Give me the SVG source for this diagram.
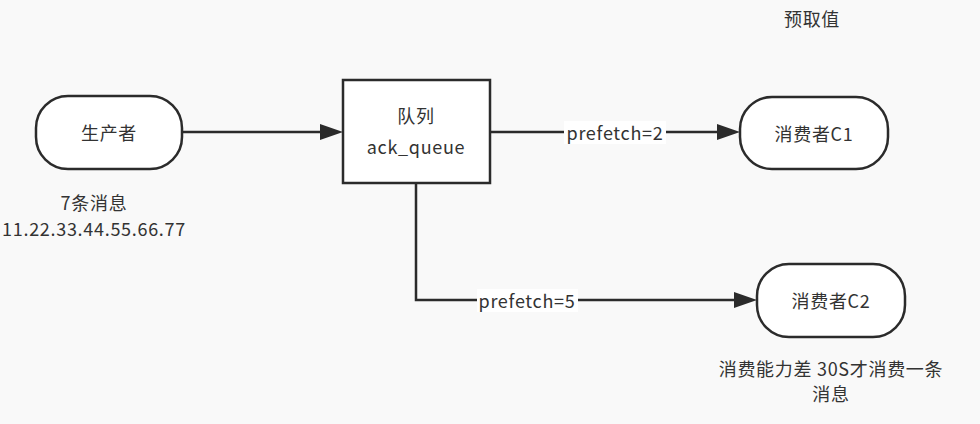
<svg xmlns="http://www.w3.org/2000/svg" width="980" height="424" viewBox="0 0 980 424">
<style>
text{font-family:"Noto Sans CJK SC","Noto Sans",sans-serif;font-size:18px;letter-spacing:0.7px;fill:#333;text-anchor:middle;dominant-baseline:central}
.n{fill:#fff;stroke:#2b2b2b;stroke-width:2.5}
.c{fill:none;stroke:#2b2b2b;stroke-width:2.5}
.lb{fill:#fff}
.ah{fill:#2b2b2b}
</style>
<rect width="980" height="424" fill="#f9f9f9"/>
<g id="connectors">
<path class="c" d="M182,132 H322"/>
<polygon class="ah" points="343,132 320,124 320,140"/>
<path class="c" d="M490,132 H719"/>
<polygon class="ah" points="740,132 717,124 717,140"/>
<rect class="lb" x="564" y="121" width="102" height="23"/>
<text x="615" y="132">prefetch=2</text>
<path class="c" d="M416,183 V300 H736"/>
<polygon class="ah" points="757,300 734,292 734,308"/>
<rect class="lb" x="477" y="289" width="101" height="23"/>
<text x="527" y="300">prefetch=5</text>
</g>
<g id="producer">
<rect class="n" x="36" y="96" width="146" height="73" rx="32"/>
<text x="109" y="132">生产者</text>
</g>
<g id="queue">
<rect class="n" x="343" y="80" width="147" height="103"/>
<text x="416" y="115">队列</text>
<text x="416" y="146">ack_queue</text>
</g>
<g id="consumer1">
<rect class="n" x="740" y="97" width="148" height="72" rx="32"/>
<text x="814" y="133">消费者C1</text>
</g>
<g id="consumer2">
<rect class="n" x="757" y="264" width="148" height="73" rx="32"/>
<text x="831" y="300">消费者C2</text>
</g>
<g id="notes">
<text x="94" y="202">7条消息</text>
<text x="94" y="228">11.22.33.44.55.66.77</text>
<text x="831" y="368">消费能力差 30S才消费一条</text>
<text x="831" y="393">消息</text>
<text x="812" y="18">预取值</text>
</g>
</svg>
